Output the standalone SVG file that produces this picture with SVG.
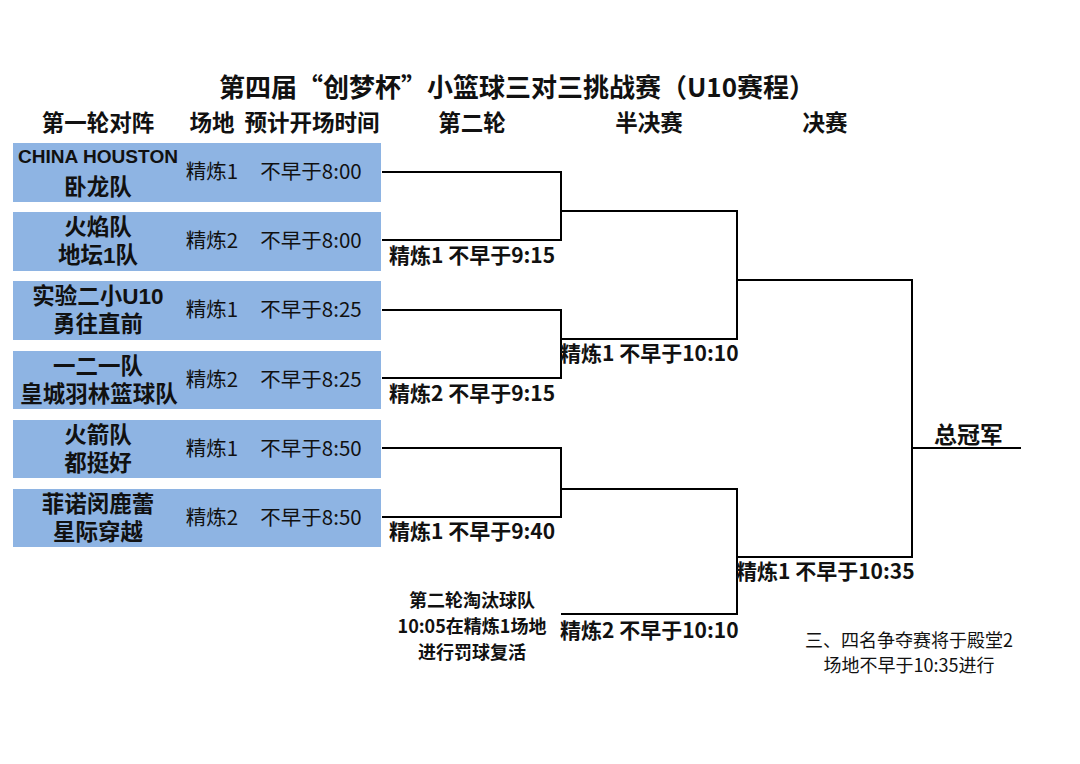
<svg xmlns="http://www.w3.org/2000/svg" width="1080" height="764" viewBox="0 0 1080 764">
<style>
text{font-family:"Noto Sans CJK SC","Noto Sans",sans-serif;fill:#111}
.t{font-size:26px;font-weight:bold}
.h{font-size:22.5px;font-weight:bold;text-anchor:middle}
.n{font-family:"Liberation Sans","Noto Sans CJK SC",sans-serif;font-size:22.5px;font-weight:bold;text-anchor:middle}
.r{font-size:20.5px;text-anchor:middle}
.l{font-size:21px;font-weight:bold}
.box{fill:#8EB4E3}
.c{fill:none;stroke:#000;stroke-width:2}
</style>
<rect width="1080" height="764" fill="#fff"/>
<text class="t" x="517" y="97" text-anchor="middle">第四届“创梦杯”小篮球三对三挑战赛（U10赛程）</text>
<g id="headers">
<text class="h" x="98" y="131">第一轮对阵</text>
<text class="h" x="212" y="131">场地</text>
<text class="h" x="312" y="131">预计开场时间</text>
<text class="h" x="472" y="131">第二轮</text>
<text class="h" x="649" y="131">半决赛</text>
<text class="h" x="825" y="131">决赛</text>
</g>
<g id="team1"><rect class="box" x="13" y="143" width="368" height="59"/>
<text class="n" x="98" y="163" style="font-size:18px" textLength="160" lengthAdjust="spacingAndGlyphs">CHINA HOUSTON</text><text class="n" x="98" y="195">卧龙队</text>
<text class="r" x="212" y="179">精炼1</text><text class="r" x="311" y="179">不早于8:00</text></g>
<g id="team2"><rect class="box" x="13" y="212" width="368" height="59"/>
<text class="n" x="98" y="235">火焰队</text><text class="n" x="98" y="263">地坛1队</text>
<text class="r" x="212" y="248">精炼2</text><text class="r" x="311" y="248">不早于8:00</text></g>
<g id="team3"><rect class="box" x="13" y="281" width="368" height="59"/>
<text class="n" x="98" y="304">实验二小U10</text><text class="n" x="98" y="332">勇往直前</text>
<text class="r" x="212" y="317">精炼1</text><text class="r" x="311" y="317">不早于8:25</text></g>
<g id="team4"><rect class="box" x="13" y="351" width="368" height="58"/>
<text class="n" x="98" y="374">一二一队</text><text class="n" x="99" y="402">皇城羽林篮球队</text>
<text class="r" x="212" y="387">精炼2</text><text class="r" x="311" y="387">不早于8:25</text></g>
<g id="team5"><rect class="box" x="13" y="420" width="368" height="58"/>
<text class="n" x="98" y="443">火箭队</text><text class="n" x="98" y="471">都挺好</text>
<text class="r" x="212" y="456">精炼1</text><text class="r" x="311" y="456">不早于8:50</text></g>
<g id="team6"><rect class="box" x="13" y="489" width="368" height="58"/>
<text class="n" x="98" y="512">菲诺闵鹿蕾</text><text class="n" x="98" y="540">星际穿越</text>
<text class="r" x="212" y="525">精炼2</text><text class="r" x="311" y="525">不早于8:50</text></g>
<g id="connectors">
<path class="c" d="M382 172H561V240H382"/>
<path class="c" d="M382 310H561V378H382"/>
<path class="c" d="M382 448H561V517H382"/>
<path class="c" d="M561 211H737V339H561"/>
<path class="c" d="M561 489H737V614H561"/>
<path class="c" d="M737 280H912V557H737"/>
<path class="c" d="M912 448H1021"/>
</g>
<g id="labels">
<text class="l" x="389" y="263">精炼1 不早于9:15</text>
<text class="l" x="389" y="401">精炼2 不早于9:15</text>
<text class="l" x="389" y="539">精炼1 不早于9:40</text>
<text class="l" x="560" y="361">精炼1 不早于10:10</text>
<text class="l" x="560" y="638">精炼2 不早于10:10</text>
<text class="l" x="736" y="579">精炼1 不早于10:35</text>
<text class="l" x="934" y="443" style="font-size:23px">总冠军</text>
</g>
<g id="note1">
<text class="l" x="472" y="607" text-anchor="middle" style="font-size:18px">第二轮淘汰球队</text>
<text class="l" x="472" y="633" text-anchor="middle" style="font-size:18px">10:05在精炼1场地</text>
<text class="l" x="472" y="659" text-anchor="middle" style="font-size:18px">进行罚球复活</text>
</g>
<g id="note2">
<text x="909" y="647" text-anchor="middle" style="font-size:18px">三、四名争夺赛将于殿堂2</text>
<text x="909" y="672" text-anchor="middle" style="font-size:18px">场地不早于10:35进行</text>
</g>
</svg>
